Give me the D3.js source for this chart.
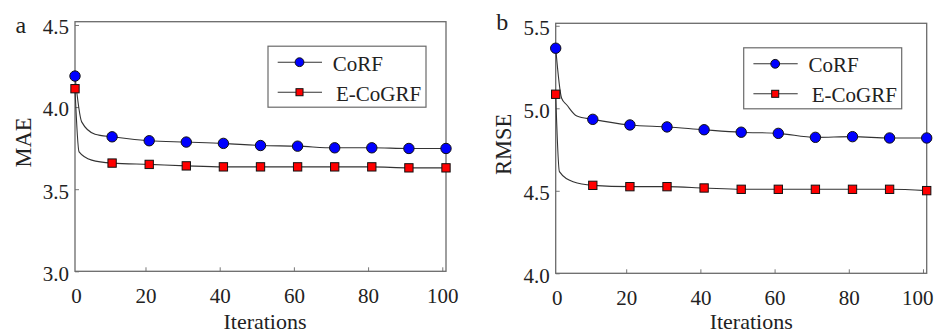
<!DOCTYPE html>
<html>
<head>
<meta charset="utf-8">
<script src="https://cdn.jsdelivr.net/npm/d3@7"></script>
<style>
    body { margin: 0; background: #fff; }
    svg { display: block; }
</style>
</head>
<body>
<svg id="chart" width="934" height="334"></svg>
<script>
// data (markers every 10 iterations)
const iterations = [1, 11, 21, 31, 41, 51, 61, 71, 81, 91, 101];
const maeCoRF = [4.189, 3.819, 3.795, 3.787, 3.779, 3.766, 3.762, 3.752, 3.752, 3.748, 3.748];
const maeECoGRF = [4.112, 3.659, 3.651, 3.642, 3.636, 3.636, 3.636, 3.636, 3.636, 3.630, 3.630];
const rmseCoRF = [5.364, 4.933, 4.899, 4.887, 4.870, 4.855, 4.848, 4.824, 4.828, 4.820, 4.820];
const rmseECoGRF = [5.085, 4.533, 4.525, 4.525, 4.517, 4.509, 4.509, 4.509, 4.509, 4.509, 4.501];
// line points between the first two markers (the steep drop)
const maeCoRFEarly = [[2.8, 3.910], [6.4, 3.835]];
const maeECoGRFEarly = [[2.1, 3.727], [5.5, 3.677]];
const rmseCoRFEarly = [[2.6, 5.061], [4.0, 5.020], [6.7, 4.953]];
const rmseECoGRFEarly = [[2.0, 4.616], [5.7, 4.555]];

const xTicks = [0, 20, 40, 60, 80, 100];
const maeTicks = [3.0, 3.5, 4.0, 4.5];
const rmseTicks = [4.0, 4.5, 5.0, 5.5];
const seriesNames = ['CoRF', 'E-CoGRF'];

const FONT = '"Liberation Serif", "Times New Roman", Times, "DejaVu Serif", serif';
const W = 934;

const svg = d3.select('#chart');

const panels = [
    {
        letter: 'a', yLabel: 'MAE', yDomain: [3.0, 4.52], yTicks: maeTicks,
        left: 75, right: 446, top: 21.7, bottom: 271.3,
        series: [[maeCoRF, maeCoRFEarly], [maeECoGRF, maeECoGRFEarly]],
        legendInset: 20, xLabelShift: 4.5
    },
    {
        letter: 'b', yLabel: 'RMSE', yDomain: [4.0, 5.515], yTicks: rmseTicks,
        left: 555.7, right: 926.7, top: 23.3, bottom: 273.3,
        series: [[rmseCoRF, rmseCoRFEarly], [rmseECoGRF, rmseECoGRFEarly]],
        legendInset: 25, xLabelShift: 10
    }
];

function drawMarker(g, kind, x, y, size) {
    if (kind === 0) {
        g.append('circle')
            .attr('cx', x).attr('cy', y).attr('r', size)
            .attr('fill', '#0000ff').attr('stroke', '#111').attr('stroke-width', 1);
    } else {
        g.append('rect')
            .attr('x', x - size * 0.8).attr('y', y - size * 0.8)
            .attr('width', size * 1.6).attr('height', size * 1.6)
            .attr('fill', '#ff0000').attr('stroke', '#111').attr('stroke-width', 1);
    }
}

function label(sel, size) {
    return sel.style('font-family', FONT).style('font-size', size + 'px').attr('fill', '#222');
}

panels.forEach(p => {
    const x = d3.scaleLinear().domain([1, 101]).range([p.left, p.right]);
    const y = d3.scaleLinear().domain(p.yDomain).range([p.bottom, p.top]);

    // x axis
    const xAxis = svg.append('g')
        .attr('transform', `translate(0, ${p.bottom})`)
        .call(d3.axisBottom(x).tickValues(xTicks).tickFormat(d3.format('d'))
            .tickSizeInner(-4).tickSizeOuter(0).tickPadding(17));
    xAxis.select('.domain').remove();
    xAxis.selectAll('.tick line').attr('stroke', '#777');
    label(xAxis.selectAll('.tick text'), 21);
    // the "0" label sits at the left edge of the box
    xAxis.selectAll('.tick').filter(d => d === 0)
        .attr('transform', `translate(${p.left + 1.5}, 0)`)
        .select('line').remove();
    // keep labels inside the page
    xAxis.selectAll('.tick text').each(function(d) {
        const right = x(d) + this.getBBox().width / 2;
        if (right > W - 1) d3.select(this).attr('x', W - 1 - right);
    });

    // y axis
    const yAxis = svg.append('g')
        .attr('transform', `translate(${p.left}, 0)`)
        .call(d3.axisLeft(y).tickValues(p.yTicks).tickFormat(d3.format('.1f'))
            .tickSizeInner(-4).tickSizeOuter(0).tickPadding(6));
    yAxis.select('.domain').remove();
    yAxis.selectAll('.tick line').attr('stroke', '#777');
    label(yAxis.selectAll('.tick text'), 21).attr('dy', '0.42em');

    // frame
    svg.append('rect')
        .attr('x', p.left).attr('y', p.top)
        .attr('width', p.right - p.left).attr('height', p.bottom - p.top)
        .attr('fill', 'none').attr('stroke', '#6a6a6a').attr('stroke-width', 1.3);

    const line = d3.line().x(d => x(d[0])).y(d => y(d[1])).curve(d3.curveMonotoneX);

    p.series.forEach(s => {
        const pts = iterations.map((it, i) => [it, s[0][i]]).concat(s[1]).sort((a, b) => a[0] - b[0]);
        svg.append('path')
            .datum(pts)
            .attr('d', line)
            .attr('fill', 'none').attr('stroke', '#333').attr('stroke-width', 1.1);
    });
    p.series.forEach((s, k) => {
        const g = svg.append('g');
        iterations.forEach((it, i) => drawMarker(g, k, x(it), y(s[0][i]), 5.2));
    });

    // legend
    const lw = 158, lh = 61;
    const lx = p.right - p.legendInset - lw, ly = p.top + 24.5;
    const lg = svg.append('g').attr('transform', `translate(${lx}, ${ly})`);
    lg.append('rect').attr('width', lw).attr('height', lh)
        .attr('fill', '#fff').attr('stroke', '#6a6a6a').attr('stroke-width', 1.2);
    seriesNames.forEach((name, k) => {
        const ry = k === 0 ? 16 : 46;
        lg.append('line').attr('x1', 9.7).attr('x2', 54).attr('y1', ry).attr('y2', ry)
            .attr('stroke', '#333').attr('stroke-width', 1.1);
        drawMarker(lg, k, 31.5, ry, 4.4);
        label(lg.append('text'), 21).attr('x', k === 0 ? 64.7 : 68).attr('y', ry + 8.7).text(name);
    });

    // axis titles
    label(svg.append('text'), 22)
        .attr('x', (p.left + p.right) / 2 + p.xLabelShift).attr('y', 328.5)
        .attr('text-anchor', 'middle').text('Iterations');
    label(svg.append('text'), 22.5)
        .attr('transform', `translate(${p.left - 44.5}, ${(p.top + p.bottom) / 2 - 4}) rotate(-90)`)
        .attr('text-anchor', 'middle').text(p.yLabel);
    label(svg.append('text'), 24)
        .attr('x', p.left - 59.5).attr('y', p.letter === 'a' ? 33 : 30)
        .text(p.letter);
});
</script>
</body>
</html>
